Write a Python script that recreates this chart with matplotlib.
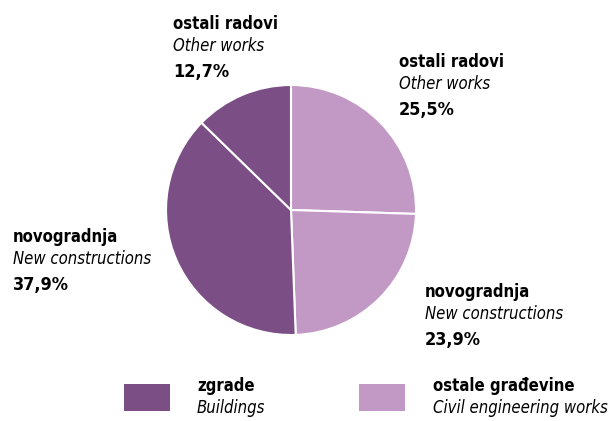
import matplotlib
matplotlib.use('Agg')
import matplotlib.pyplot as plt
from matplotlib import font_manager

# shares, clockwise from 12 o'clock
labels_hr = ['ostali radovi', 'novogradnja', 'novogradnja', 'ostali radovi']
labels_en = ['Other works', 'New constructions', 'New constructions', 'Other works']
shares = [25.5, 23.9, 37.9, 12.7]
groups = ['ostale', 'ostale', 'zgrade', 'zgrade']

legend_hr = ['zgrade', 'ostale građevine']
legend_en = ['Buildings', 'Civil engineering works']

DARK = '#7b4f86'
LIGHT = '#c298c4'
col = {'zgrade': DARK, 'ostale': LIGHT}

# narrow font if there is one
fonts = font_manager.fontManager.ttflist
names = {f.name for f in fonts}
stretch = 'normal'
if 'Liberation Sans Narrow' in names:
    family, fs = 'Liberation Sans Narrow', 14
elif any(f.name == 'DejaVu Sans' and f.stretch == 'condensed' for f in fonts):
    family, fs, stretch = 'DejaVu Sans', 12, 'condensed'
else:
    family, fs = 'Liberation Sans', 11.5
plt.rcParams['font.family'] = [family, 'DejaVu Sans']
plt.rcParams['font.stretch'] = stretch

W, H = 608, 421
fig = plt.figure(figsize=(W / 100, H / 100), dpi=100)
ax = fig.add_axes([0, 0, 1, 1])

cx, cy, r = 291, H - 210, 125
ax.pie(shares, colors=[col[g] for g in groups], startangle=90, counterclock=False,
       center=(cx, cy), radius=r, frame=True,
       wedgeprops=dict(edgecolor='white', linewidth=1.5))
ax.set_xlim(0, W)
ax.set_ylim(0, H)
ax.set_aspect('equal')
ax.axis('off')

# label anchors: left x and baseline of first line, pixels from top-left
anchors = [(399, 67), (425, 297), (13, 242), (173, 29)]
for (x, y), hr, en, v in zip(anchors, labels_hr, labels_en, shares):
    ax.text(x, H - y, hr, fontsize=fs, fontweight='bold', va='baseline', ha='left')
    ax.text(x, H - y - 22, en, fontsize=fs, style='italic', va='baseline', ha='left')
    ax.text(x, H - y - 48, f'{v:.1f}%'.replace('.', ','), fontsize=fs + 1,
            fontweight='bold', va='baseline', ha='left')

# legend
for (bx, tx), hr, en, c in zip([(124, 197), (359, 433)], legend_hr, legend_en, [DARK, LIGHT]):
    ax.add_patch(plt.Rectangle((bx, H - 411), 46, 27, color=c, lw=0))
    ax.text(tx, H - 391, hr, fontsize=fs, fontweight='bold', va='baseline', ha='left')
    ax.text(tx, H - 413, en, fontsize=fs, style='italic', va='baseline', ha='left')

fig.savefig('out.png', dpi=100)
